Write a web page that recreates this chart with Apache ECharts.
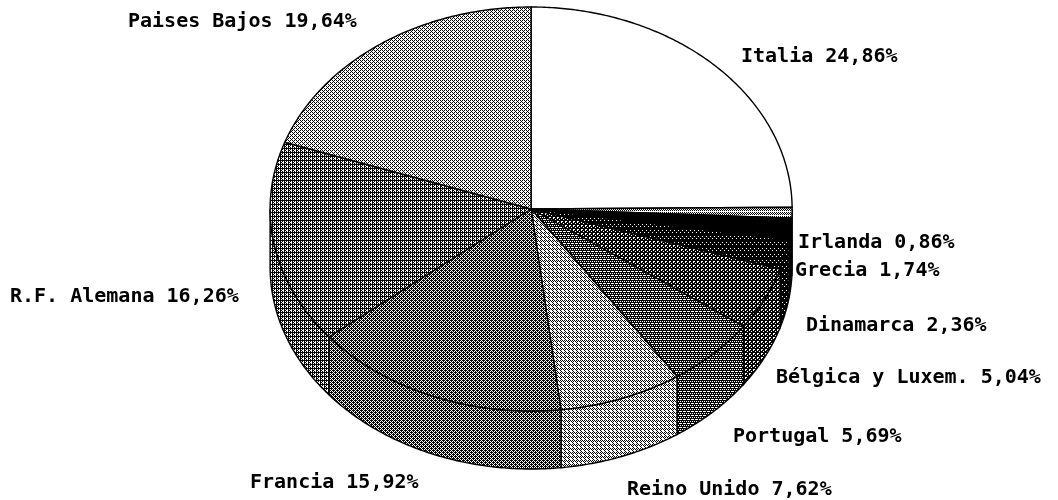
<!DOCTYPE html>
<html>
<head>
<meta charset="utf-8">
<script src="https://cdn.jsdelivr.net/npm/echarts@6/dist/echarts.min.js"></script>
<style>
html, body { margin: 0; padding: 0; background: #fff; }
#chart { width: 1058px; height: 500px; }
</style>
</head>
<body>
<div id="chart"></div>
<script>
// datos: reparto por pais (%)
var countries = ['Italia', 'Irlanda', 'Grecia', 'Dinamarca', 'Bélgica y Luxem.', 'Portugal', 'Reino Unido', 'Francia', 'R.F. Alemana', 'Paises Bajos'];
var shares = [24.86, 0.86, 1.74, 2.36, 5.04, 5.69, 7.62, 15.92, 16.26, 19.64];

// posicion de las etiquetas (borde izquierdo, centro vertical)
var labelPos = [[741, 57], [798, 243], [795, 271], [806, 326], [776, 378], [733, 437], [627, 490], [250, 483], [10, 297], [128, 22]];

// tramas de relleno, 1 = punto negro
var tiles = [
    null,
    ['1010', '0101', '1010', '0000'],
    'black',
    ['1111', '1111', '1101', '1111', '0111', '1111'],
    ['1111', '1001', '1011', '1110'],
    ['1111', '0101', '1111', '0010'],
    ['1010', '0101', '1000', '0100'],
    ['1011', '0101', '1110', '0101'],
    ['1111', '1010', '1100', '1010'],
    ['1010', '0100', '1010', '0001']
];

function makeFill(t) {
    if (t === null) return '#fff';
    if (t === 'black') return '#000';
    var c = document.createElement('canvas');
    c.width = t[0].length;
    c.height = t.length;
    var ctx = c.getContext('2d');
    ctx.fillStyle = '#fff';
    ctx.fillRect(0, 0, c.width, c.height);
    ctx.fillStyle = '#000';
    for (var y = 0; y < t.length; y++) {
        for (var x = 0; x < t[y].length; x++) {
            if (t[y][x] === '1') ctx.fillRect(x, y, 1, 1);
        }
    }
    return { image: c, repeat: 'repeat' };
}
var fills = tiles.map(makeFill);

var total = shares.reduce(function (a, b) { return a + b; }, 0);
var starts = [];
var acc = 0;
for (var k = 0; k < shares.length; k++) {
    starts.push(acc);
    acc += shares[k];
}

var myChart = echarts.init(document.getElementById('chart'));

function renderSlice(params, api) {
    var i = params.dataIndex;
    var W = api.getWidth(), H = api.getHeight();
    var cx = W * 0.502, cy = H * 0.418, rx = W * 0.2467, ry = H * 0.404, depth = H * 0.116;
    var a0 = starts[i] / total * Math.PI * 2;
    var a1 = (starts[i] + api.value(0)) / total * Math.PI * 2;

    function arc(b0, b1, dy) {
        var n = Math.max(2, Math.ceil((b1 - b0) / 0.01));
        var p = [];
        for (var j = 0; j <= n; j++) {
            var a = b0 + (b1 - b0) * j / n;
            p.push([cx + rx * Math.sin(a), cy - ry * Math.cos(a) + dy]);
        }
        return p;
    }

    var children = [];
    // cara lateral (solo la mitad delantera)
    var s0 = Math.max(a0, Math.PI / 2), s1 = Math.min(a1, Math.PI * 1.5);
    if (s1 > s0) {
        var side = arc(s0, s1, 0).concat(arc(s0, s1, depth).reverse());
        children.push({
            type: 'polygon',
            shape: { points: side },
            style: { fill: fills[i], stroke: '#000', lineWidth: 1.4 }
        });
    }
    // cara superior
    children.push({
        type: 'polygon',
        shape: { points: [[cx, cy]].concat(arc(a0, a1, 0)) },
        style: { fill: fills[i], stroke: '#000', lineWidth: 1.4 }
    });
    children.push({
        type: 'text',
        style: {
            text: countries[i] + ' ' + shares[i].toFixed(2).replace('.', ',') + '%',
            x: labelPos[i][0],
            y: labelPos[i][1],
            font: 'bold 20px "DejaVu Sans Mono"',
            fill: '#000',
            align: 'left',
            verticalAlign: 'middle'
        }
    });
    return { type: 'group', children: children };
}

var option = {
    animation: false,
    series: [{
        type: 'custom',
        coordinateSystem: 'none',
        renderItem: renderSlice,
        data: shares.map(function (v, i) { return { name: countries[i], value: [v] }; })
    }]
};
myChart.setOption(option);
</script>
</body>
</html>
